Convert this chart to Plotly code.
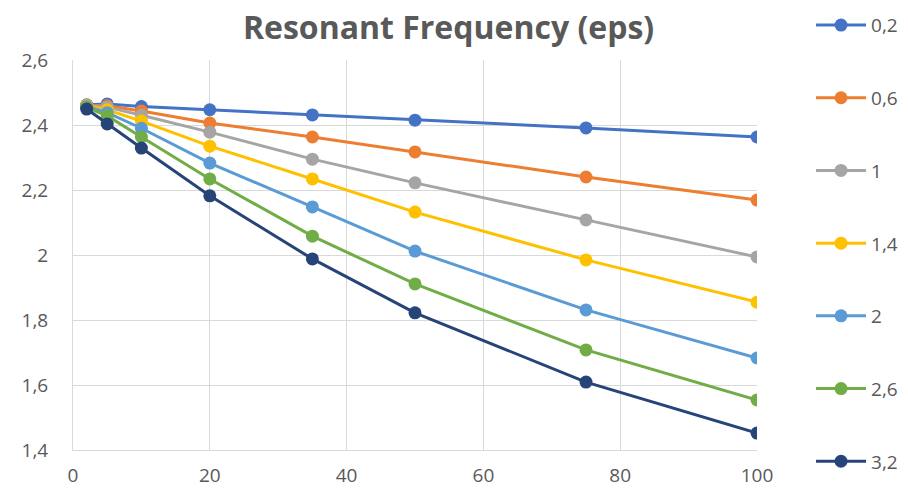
import plotly.graph_objects as go

x_vals = [2, 5, 10, 20, 35, 50, 75, 100]
series_names = ["0,2", "0,6", "1", "1,4", "2", "2,6", "3,2"]
colors = ["#4472C4", "#ED7D31", "#A5A5A5", "#FFC000", "#5B9BD5", "#70AD47", "#264478"]

s_02 = [2.462, 2.465, 2.457, 2.447, 2.431, 2.415, 2.391, 2.363]
s_06 = [2.461, 2.459, 2.443, 2.406, 2.363, 2.317, 2.240, 2.169]
s_10 = [2.460, 2.455, 2.430, 2.378, 2.295, 2.222, 2.108, 1.994]
s_14 = [2.459, 2.447, 2.412, 2.335, 2.234, 2.132, 1.985, 1.855]
s_20 = [2.457, 2.438, 2.390, 2.283, 2.148, 2.012, 1.831, 1.683]
s_26 = [2.454, 2.428, 2.363, 2.234, 2.058, 1.911, 1.708, 1.554]
s_32 = [2.449, 2.403, 2.329, 2.182, 1.988, 1.822, 1.609, 1.452]
all_series = [s_02, s_06, s_10, s_14, s_20, s_26, s_32]

x_ticks = [0, 20, 40, 60, 80, 100]
y_ticks = [1.4, 1.6, 1.8, 2.0, 2.2, 2.4, 2.6]

font_family = "'Open Sans', Lato, sans-serif"
text_color = "#595959"
grid_color = "#D9D9D9"

fig = go.Figure()
for name, ys, c in zip(series_names, all_series, colors):
    fig.add_trace(go.Scatter(
        x=x_vals, y=ys, name=name, mode="lines+markers",
        line=dict(color=c, width=3), marker=dict(color=c, size=13),
        legendgroup=name,
    ))

fig.update_layout(
    width=908, height=490,
    paper_bgcolor="white", plot_bgcolor="white",
    separators=", ",
    margin=dict(l=73, r=151, t=60, b=40, autoexpand=False),
    title=dict(text="<b>Resonant Frequency (eps)</b>", x=0.494, xanchor="center",
               y=0.943, yanchor="middle",
               font=dict(family=font_family, size=32, color=text_color)),
    font=dict(family=font_family, size=19, color=text_color),
    legend=dict(x=1.079, xanchor="left", y=1.138, yanchor="top",
                tracegroupgap=45, font=dict(size=19, color=text_color),
                itemwidth=50, bgcolor="rgba(0,0,0,0)", maxheight=490),
    showlegend=True,
)
fig.update_xaxes(range=[0, 100], tickvals=x_ticks, showgrid=True, gridcolor=grid_color,
                 gridwidth=1, showline=True, linecolor=grid_color, linewidth=1,
                 zeroline=False, ticks="", ticklabelstandoff=8,
                 tickfont=dict(size=19, color=text_color))
fig.update_yaxes(range=[1.4, 2.6], tickvals=y_ticks, showgrid=True, gridcolor=grid_color,
                 gridwidth=1, showline=True, linecolor=grid_color, linewidth=1,
                 zeroline=False, ticks="", tickformat="~g", ticklabelstandoff=20,
                 tickfont=dict(size=19, color=text_color))

fig.write_html("out.html")
